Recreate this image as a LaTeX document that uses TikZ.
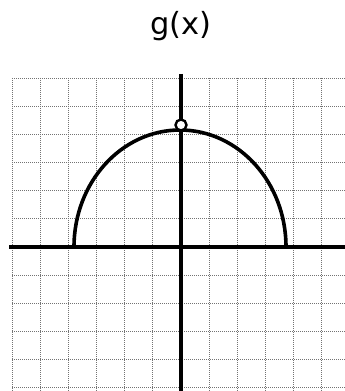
\documentclass[tikz,border=0pt]{standalone}
\usepackage{fontspec}
\newfontfamily\titlefont{DejaVu Sans}
\begin{document}
\begin{tikzpicture}[x=1pt,y=1pt,
  gridline/.style={black!55, line width=1pt, dash pattern=on 1pt off 1pt},
  axisline/.style={black, line width=3.5pt},
  curveline/.style={black, line width=3.6pt},
  holept/.style={circle, draw=black, fill=white, line width=2.4pt, minimum size=11pt, inner sep=0pt}]
\useasboundingbox (0,0) rectangle (345,391);
\fill[white] (0,0) rectangle (345,391);
% grid
\foreach \k in {-6,...,5} {
  \draw[gridline] ({181+\k*28.15},313) -- ({181+\k*28.15},0);
  \draw[gridline] (12,{144-\k*28.15}) -- (345,{144-\k*28.15});
}
% axes
\coordinate (xl) at (9,144);
\coordinate (xr) at (345,144);
\coordinate (yt) at (181,317);
\coordinate (yb) at (181,0);
\draw[axisline] (xl) -- (xr);
\draw[axisline] (yt) -- (yb);
% semi-ellipse
\draw[curveline] (286,144) arc[start angle=0, end angle=180, x radius=106, y radius=117];
% open point
\node[holept] (hole) at (181,266) {};
% title
\node[anchor=base, font=\titlefont\fontsize{30.5}{34}\selectfont] (title) at (181,356) {g(x)};
\end{tikzpicture}
\end{document}
